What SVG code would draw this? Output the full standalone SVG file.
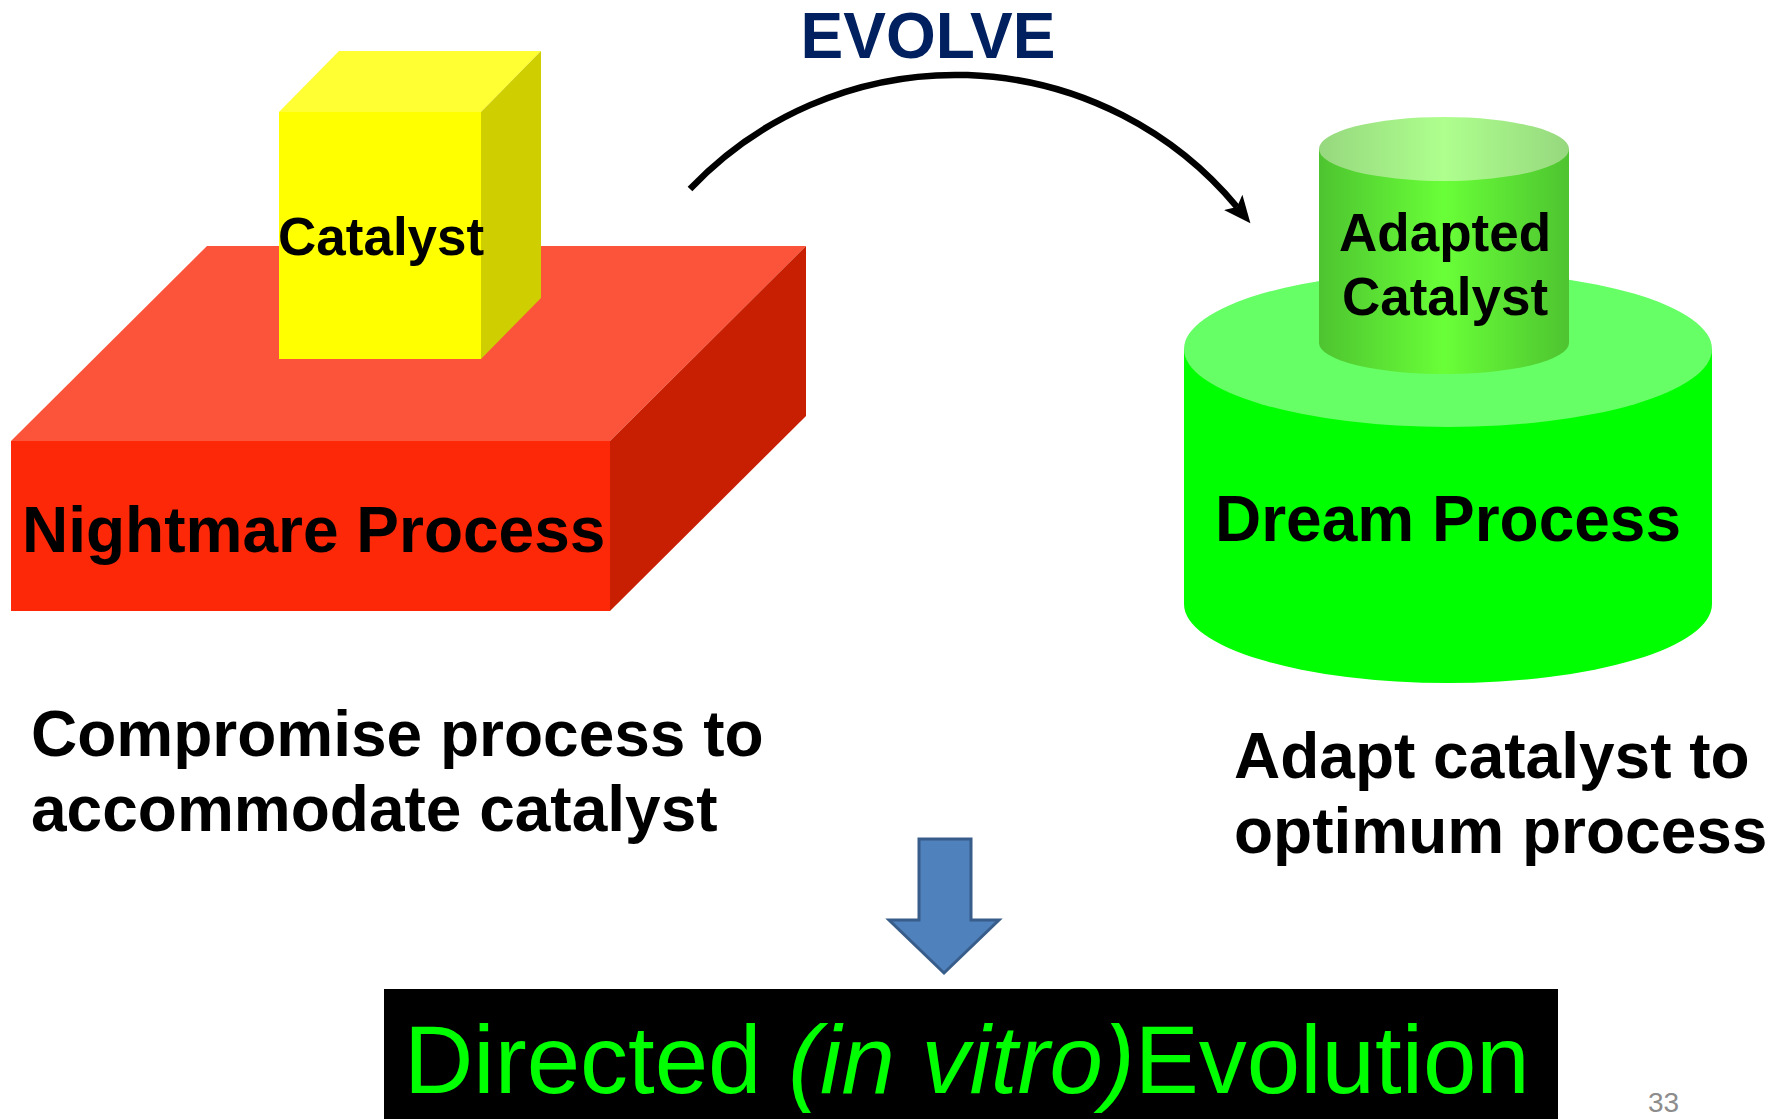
<svg xmlns="http://www.w3.org/2000/svg" width="1785" height="1119" viewBox="0 0 1785 1119">
  <defs>
    <style>
      .lbl { font-family: "Liberation Sans", Arial, sans-serif; font-weight: bold; fill: #000; }
      .big { font-size: 64px; }
      .mid { font-size: 53px; }
    </style>
    <linearGradient id="cupSide" x1="0" y1="0" x2="1" y2="0">
      <stop offset="0" stop-color="#4EC430"/>
      <stop offset="0.5" stop-color="#69FF38"/>
      <stop offset="1" stop-color="#4EC430"/>
    </linearGradient>
    <linearGradient id="cupTop" x1="0" y1="0" x2="1" y2="0">
      <stop offset="0" stop-color="#96D87E"/>
      <stop offset="0.5" stop-color="#AEFF8E"/>
      <stop offset="1" stop-color="#96D87E"/>
    </linearGradient>
    <marker id="head" markerUnits="userSpaceOnUse" markerWidth="28" markerHeight="24" viewBox="0 0 28 24" refX="6" refY="12" orient="auto">
      <path d="M0,0 L27,12 L0,24 L6,12 z" fill="#000"/>
    </marker>
  </defs>

  <rect width="1785" height="1119" fill="#fff"/>

  <!-- Nightmare process slab -->
  <g id="nightmare-process">
    <polygon points="11,441 207,246 806,246 610,441" fill="#FC543A"/>
    <polygon points="610,441 806,246 806,416 610,611" fill="#C81E02"/>
    <rect x="11" y="441" width="599" height="170" fill="#FC2808"/>
    <text class="lbl big" x="22" y="552">Nightmare Process</text>
  </g>

  <!-- Catalyst block on the slab -->
  <g id="catalyst">
    <polygon points="279,112 339,51 541,51 481,112" fill="#FFFF33"/>
    <polygon points="481,112 541,51 541,298 481,359" fill="#CECE00"/>
    <rect x="279" y="112" width="202" height="247" fill="#FFFF00"/>
    <text class="lbl mid" x="278" y="255">Catalyst</text>
  </g>

  <!-- Dream process cylinder -->
  <g id="dream-process">
    <path d="M1184,349 L1184,604 A264,79 0 0,0 1712,604 L1712,349 z" fill="#00FF00"/>
    <ellipse cx="1448" cy="349" rx="264" ry="78" fill="#66FF66"/>
    <text class="lbl big" x="1448" y="541" text-anchor="middle">Dream Process</text>
  </g>

  <!-- Adapted catalyst cylinder -->
  <g id="adapted-catalyst">
    <path d="M1319,149 L1319,343 A125,31 0 0,0 1569,343 L1569,149 z" fill="url(#cupSide)"/>
    <ellipse cx="1444" cy="149" rx="125" ry="32" fill="url(#cupTop)"/>
    <text class="lbl mid" x="1445" y="251" text-anchor="middle">Adapted</text>
    <text class="lbl mid" x="1445" y="315" text-anchor="middle">Catalyst</text>
  </g>

  <!-- Captions -->
  <g id="caption-left">
    <text class="lbl big" x="31" y="756">Compromise process to</text>
    <text class="lbl big" x="31" y="831">accommodate catalyst</text>
  </g>
  <g id="caption-right">
    <text class="lbl big" x="1234" y="778">Adapt catalyst to</text>
    <text class="lbl big" x="1234" y="853">optimum process</text>
  </g>

  <!-- Title over the arc -->
  <g id="evolve-label">
    <text x="928" y="58" text-anchor="middle" font-family="Liberation Sans, Arial, sans-serif" font-weight="bold" font-size="64" fill="#002060">EVOLVE</text>
  </g>

  <!-- Connectors -->
  <g id="connectors">
    <path d="M690,189 A366,366 0 0,1 1237,207" fill="none" stroke="#000" stroke-width="6.5" marker-end="url(#head)"/>
    <polygon points="919,839 971,839 971,920 999,920 944,973 889,920 919,920" fill="#4F81BD" stroke="#385D8A" stroke-width="3" stroke-linejoin="miter"/>
  </g>

  <!-- Result banner -->
  <g id="directed-evolution">
    <rect x="384" y="989" width="1174" height="130" fill="#000"/>
    <text x="404" y="1093" font-family="Liberation Sans, Arial, sans-serif" font-size="96" fill="#00FF00">Directed <tspan font-style="italic">(in vitro)</tspan>Evolution</text>
  </g>

  <text x="1648" y="1112" font-family="Liberation Sans, Arial, sans-serif" font-size="28" fill="#8C8C8C">33</text>
</svg>
